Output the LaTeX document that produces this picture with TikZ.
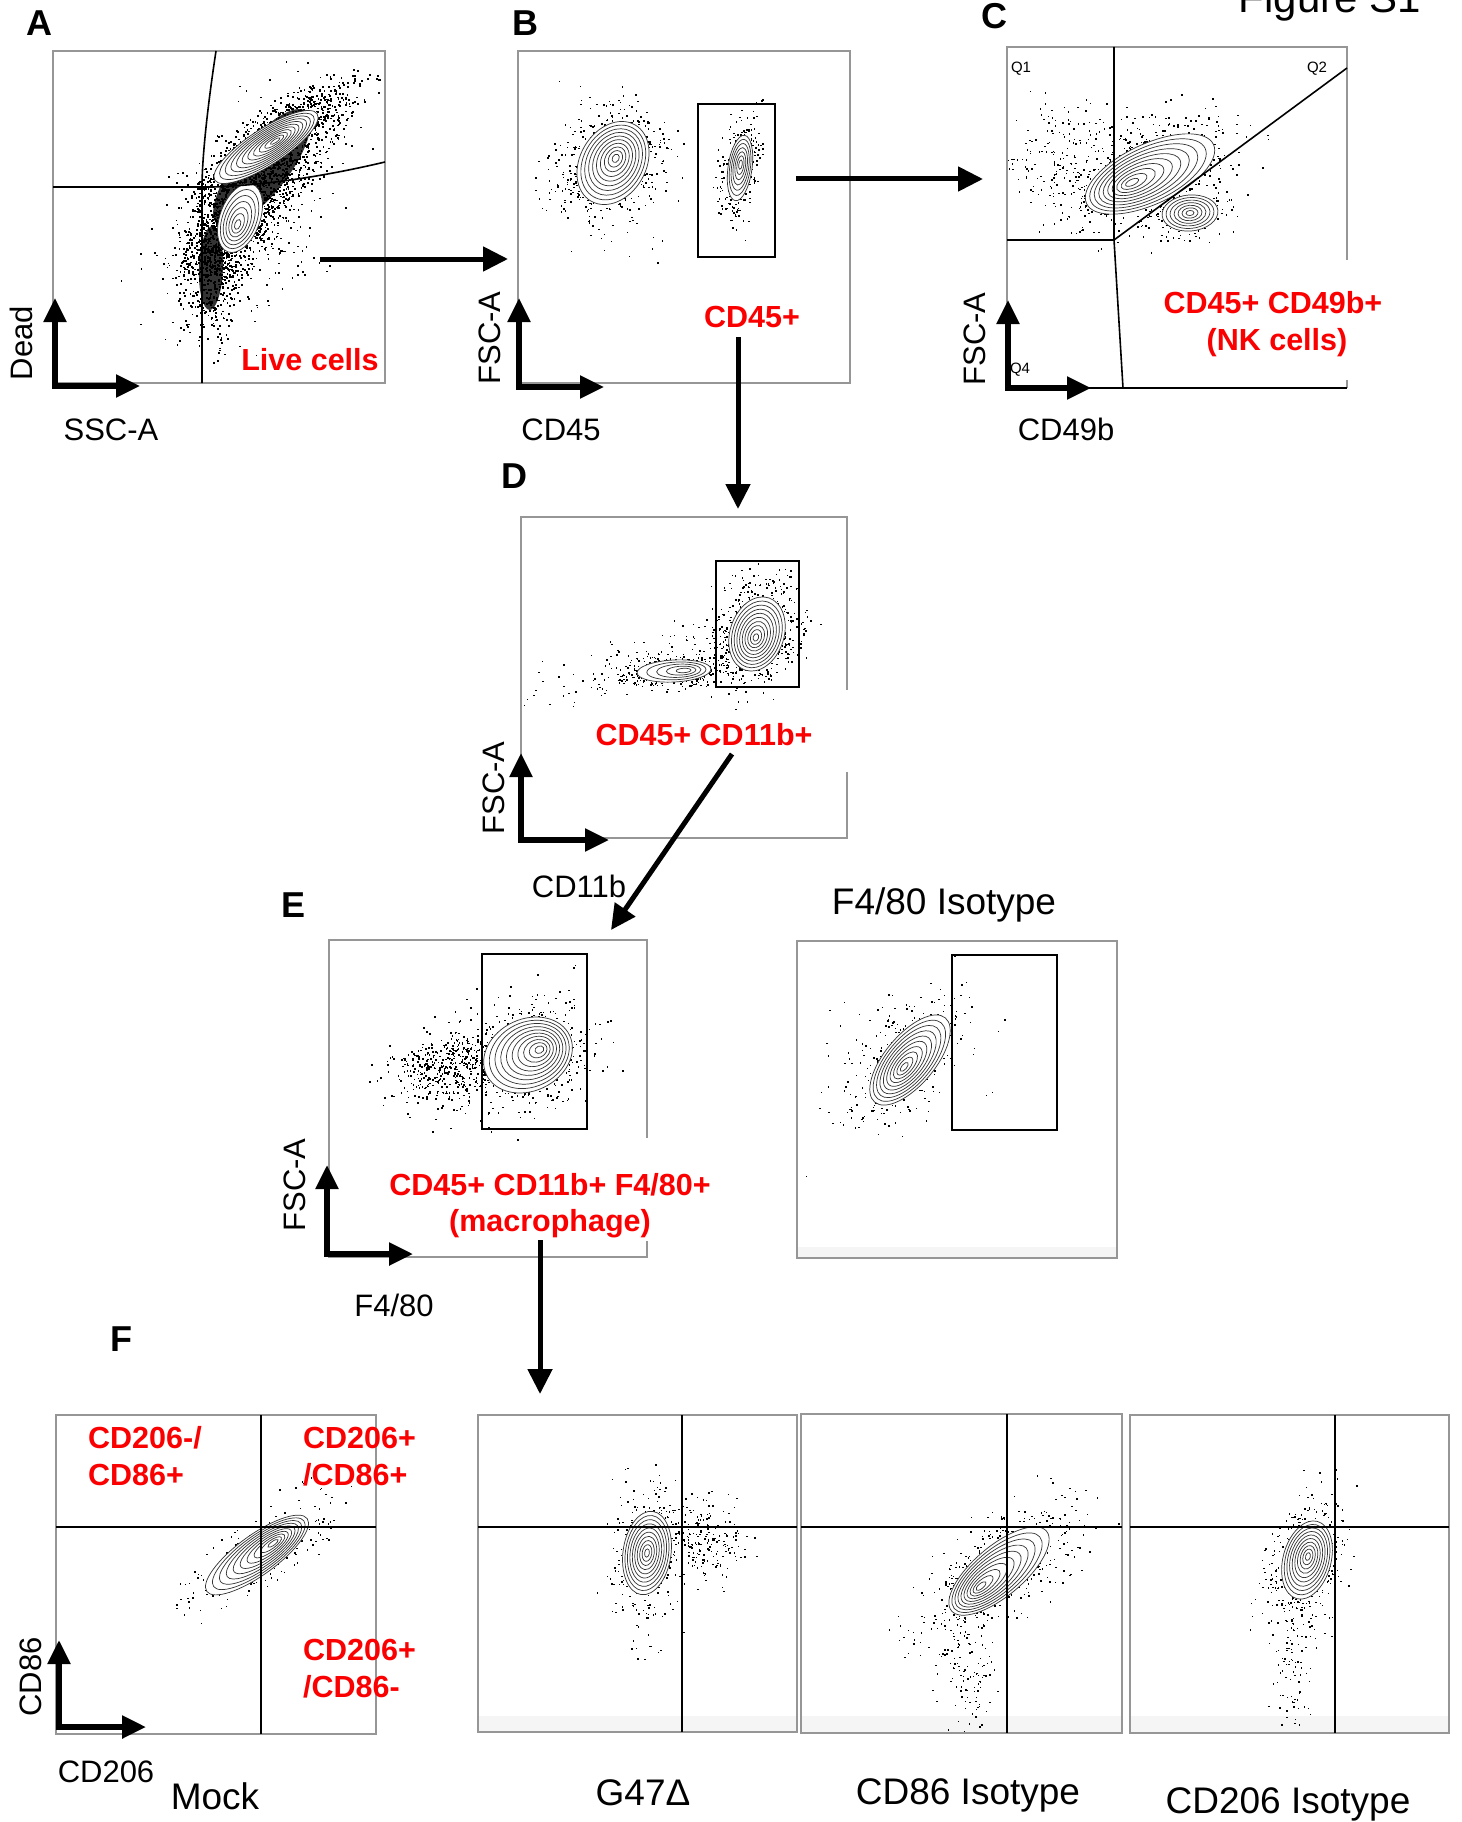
\documentclass[tikz,border=0pt]{standalone}
\usepackage{fontspec}
\setmainfont{Liberation Sans}
\usepackage{tikz}
\usetikzlibrary{positioning,arrows.meta}
\definecolor{popred}{RGB}{250,0,0}
\definecolor{boxgray}{RGB}{150,150,150}

% random cloud: cx cy sd-major sd-minor angle count dot
\newcommand\scat[7]{%
  \foreach \k in {1,...,#6}{%
    \pgfmathsetmacro\scu{(rand+rand+rand)*#3}%
    \pgfmathsetmacro\scv{(rand+rand+rand)*#4}%
    \pgfmathsetmacro\scx{#1+\scu*cos(#5)-\scv*sin(#5)}%
    \pgfmathsetmacro\scy{#2-\scu*sin(#5)-\scv*cos(#5)}%
    \fill (\scx,\scy) rectangle ++(#7,#7);
  }}
% nested contours: cx cy a b angle levels shift
\newcommand\ctr[7]{%
  \begin{scope}[rotate around={#5:(#1,#2)}]
    \draw[ctrline,fill=white] (#1,#2) ellipse [x radius=#3, y radius=#4];
    \foreach \j in {1,...,#6}{%
      \pgfmathsetmacro\cf{1-\j/(#6+1)}%
      \pgfmathsetmacro\cra{\cf*#3}%
      \pgfmathsetmacro\crb{\cf*#4}%
      \pgfmathsetmacro\ccx{#1+#7*(1-\cf)}%
      \draw[ctrline] (\ccx,#2) ellipse [x radius=\cra, y radius=\crb];
    }
  \end{scope}}

\begin{document}
\begin{tikzpicture}
  [x=1pt,y=-1pt,
   box/.style={draw=boxgray,line width=1.3pt},
   gate/.style={draw=black,line width=1.6pt},
   quad/.style={draw=black,line width=1.2pt},
   ctrline/.style={draw=black!80,line width=0.7pt},
   ax/.style={line width=5.5pt,line join=miter,{Triangle[width=22pt,length=24pt]}-{Triangle[width=22pt,length=24pt]}},
   flow/.style={line width=5pt,-{Triangle[width=24pt,length=25pt]}},
   lab/.style={font=\fontsize{31}{37}\selectfont,inner sep=0pt},
   pop/.style={font=\fontsize{30.5}{37}\selectfont\bfseries,text=popred,inner sep=0pt},
   panel/.style={font=\fontsize{36}{40}\selectfont\bfseries,inner sep=0pt},
   bigtxt/.style={font=\fontsize{37}{42}\selectfont,inner sep=0pt},
   qlab/.style={font=\fontsize{15}{18}\selectfont,inner sep=0pt}]
  \useasboundingbox (0,0) rectangle (1461,1822);
  \pgfmathsetseed{11}

  \node[bigtxt,font=\fontsize{42}{46}\selectfont,anchor=base] (title) at (1330,13) {Figure S1};

  % A
  \node[panel,anchor=base] (pA) at (39,36) {A};
  \begin{scope}
    \clip (53,51) rectangle (385,383);
    \fill[black!80,rotate around={52:(262,168)}] (262,168) ellipse [x radius=72, y radius=26];
    \fill[black!80,rotate around={88:(211,268)}] (211,268) ellipse [x radius=42, y radius=12];
    \scat{255}{190}{50}{20}{55}{1000}{1.8}
    \scat{212}{262}{38}{16}{88}{600}{1.8}
    \scat{295}{128}{48}{13}{38}{400}{1.8}
    \scat{250}{220}{65}{38}{55}{300}{1.6}
    \scat{266}{147}{42}{14}{33}{600}{1.8}
    \scat{240}{218}{26}{15}{70}{400}{1.8}
    \ctr{240}{218}{36}{20}{70}{6}{-8}
    \ctr{266}{147}{61}{18}{33}{10}{12}
  \end{scope}
  \draw[box] (53,51) rectangle (385,383);
  \draw[gate] (216,51) .. controls (207,110) and (202,160) .. (202,187) -- (202,383);
  \draw[gate] (53,187) -- (213,187) .. controls (270,185) and (330,175) .. (385,162);
  \node[pop,anchor=base] (live) at (310,370) {Live cells};
  \draw[ax] (55,298) -- (55,386) -- (140,386);
  \node[lab,rotate=90] (yA) at (21,343) {Dead};
  \node[lab,anchor=base] (xA) at (111,440) {SSC-A};

  % B
  \node[panel,anchor=base] (pB) at (525,36) {B};
  \begin{scope}
    \clip (518,51) rectangle (850,383);
    \scat{606}{166}{28}{20}{65}{220}{1.5}
    \scat{600}{170}{40}{38}{0}{90}{1.4}
    \scat{613}{163}{32}{25}{60}{300}{1.6}
    \scat{738}{172}{28}{9}{84}{130}{1.5}
    \scat{740}{168}{25}{9}{82}{200}{1.6}
    \ctr{613}{163}{44}{33}{60}{9}{6}
    \ctr{740}{168}{33}{12}{82}{6}{4}
  \end{scope}
  \draw[box] (518,51) rectangle (850,383);
  \draw[gate] (698,104) rectangle (775,257);
  \node[pop,anchor=base] (cd45) at (752,327) {CD45+};
  \draw[ax] (519,298) -- (519,387) -- (604,387);
  \node[lab,rotate=90] (yB) at (490,338) {FSC-A};
  \node[lab,anchor=base] (xB) at (561,440) {CD45};

  % C
  \node[panel,anchor=base] (pC) at (994,29) {C};
  \begin{scope}
    \clip (1007,47) rectangle (1347,388);
    \scat{1135}{172}{50}{24}{20}{330}{1.5}
    \scat{1060}{150}{35}{28}{10}{160}{1.4}
    \scat{1150}{174}{48}{22}{25}{280}{1.6}
    \scat{1190}{214}{20}{13}{5}{140}{1.5}
    \ctr{1150}{174}{70}{30}{25}{9}{-22}
    \ctr{1190}{213}{28}{18}{5}{6}{0}
  \end{scope}
  \draw[box] (1347,260) -- (1347,47) -- (1007,47) -- (1007,388);
  \draw[box] (1347,380) -- (1347,388);
  \draw[gate] (1007,388) -- (1347,388);
  \draw[gate] (1114,47) -- (1114,240) -- (1123,388);
  \draw[gate] (1007,240) -- (1114,240) -- (1347,68);
  \node[qlab] (q1) at (1021,69) {Q1};
  \node[qlab] (q2) at (1317,69) {Q2};
  \node[qlab] (q4) at (1020,370) {Q4};
  \node[pop,anchor=base] (nk1) at (1273,313) {CD45+ CD49b+};
  \node[pop,anchor=base] (nk2) at (1277,350) {(NK cells)};
  \draw[ax] (1008,300) -- (1008,388) -- (1091,388);
  \node[lab,rotate=90] (yC) at (975,339) {FSC-A};
  \node[lab,anchor=base] (xC) at (1066,440) {CD49b};

  % D
  \node[panel,anchor=base] (pD) at (514,488) {D};
  \begin{scope}
    \clip (521,517) rectangle (847,838);
    \scat{757}{630}{30}{22}{70}{260}{1.5}
    \scat{757}{634}{27}{20}{72}{330}{1.6}
    \scat{672}{670}{36}{9}{3}{180}{1.5}
    \scat{674}{671}{27}{8}{3}{200}{1.6}
    \scat{650}{664}{60}{14}{15}{120}{1.4}
    \ctr{674}{671}{37}{11}{3}{4}{12}
    \ctr{757}{634}{38}{27}{72}{9}{-4}
  \end{scope}
  \draw[box] (847,690) -- (847,517) -- (521,517) -- (521,838) -- (847,838) -- (847,772);
  \draw[gate] (716,561) rectangle (799,687);
  \node[pop,anchor=base] (cd11) at (704,745) {CD45+ CD11b+};
  \draw[ax] (521,753) -- (521,840) -- (609,840);
  \node[lab,rotate=90] (yD) at (494,788) {FSC-A};
  \node[lab,anchor=base] (xD) at (579,897) {CD11b};

  % E
  \node[panel,anchor=base] (pE) at (294,917) {E};
  \begin{scope}
    \clip (329,940) rectangle (647,1257);
    \scat{510}{1055}{42}{26}{25}{330}{1.5}
    \scat{528}{1055}{33}{26}{25}{330}{1.6}
    \scat{445}{1066}{28}{17}{20}{380}{1.6}
    \ctr{528}{1055}{46}{36}{25}{9}{14}
  \end{scope}
  \draw[box] (647,1138) -- (647,940) -- (329,940) -- (329,1257) -- (647,1257) -- (647,1241);
  \draw[gate] (482,954) rectangle (587,1129);
  \node[pop,anchor=base] (mac1) at (550,1195) {CD45+ CD11b+ F4/80+};
  \node[pop,anchor=base] (mac2) at (550,1231) {(macrophage)};
  \draw[ax] (327,1165) -- (327,1254) -- (413,1254);
  \node[lab,rotate=90] (yE) at (295,1185) {FSC-A};
  \node[lab,anchor=base] (xE) at (394,1316) {F4/80};

  % F4/80 isotype
  \node[bigtxt,anchor=base] (iso) at (944,914) {F4/80 Isotype};
  \begin{scope}
    \clip (797,941) rectangle (1117,1258);
    \fill[black!4] (797,1247) rectangle (1117,1258);
    \scat{898}{1062}{42}{20}{45}{160}{1.4}
    \scat{910}{1060}{38}{18}{50}{160}{1.5}
    \scat{880}{1060}{60}{35}{20}{60}{1.4}
    \ctr{910}{1060}{55}{25}{50}{9}{-10}
  \end{scope}
  \draw[box] (797,941) rectangle (1117,1258);
  \draw[gate] (952,955) rectangle (1057,1130);

  % F
  \node[panel,anchor=base] (pF) at (121,1351) {F};
  \begin{scope}
    \clip (56,1415) rectangle (376,1734);
    \scat{257}{1555}{48}{16}{36}{110}{1.4}
    \scat{257}{1555}{44}{14}{36}{110}{1.5}
    \ctr{257}{1555}{62}{20}{36}{9}{22}
  \end{scope}
  \draw[box] (56,1415) rectangle (376,1734);
  \draw[quad] (261,1415) -- (261,1734);
  \draw[gate] (56,1527) -- (376,1527);
  \node[pop,anchor=base west] (m1) at (88,1448) {CD206-/};
  \node[pop,anchor=base west] (m2) at (88,1485) {CD86+};
  \node[pop,anchor=base west] (m3) at (303,1448) {CD206+};
  \node[pop,anchor=base west] (m4) at (303,1485) {/CD86+};
  \node[pop,anchor=base west] (m5) at (303,1660) {CD206+};
  \node[pop,anchor=base west] (m6) at (303,1697) {/CD86-};
  \draw[ax] (59,1640) -- (59,1727) -- (146,1727);
  \node[lab,rotate=90] (yF) at (31,1677) {CD86};
  \node[lab,anchor=base] (xF) at (106,1782) {CD206};
  \node[bigtxt,anchor=base] (mock) at (215,1809) {Mock};

  \begin{scope}
    \clip (478,1415) rectangle (797,1732);
    \fill[black!4] (478,1716) rectangle (797,1732);
    \scat{648}{1556}{40}{17}{85}{140}{1.4}
    \scat{647}{1553}{31}{18}{82}{180}{1.5}
    \scat{706}{1540}{18}{20}{0}{200}{1.5}
    \ctr{647}{1553}{42}{24}{82}{9}{0}
  \end{scope}
  \draw[box] (478,1415) rectangle (797,1732);
  \draw[quad] (682,1415) -- (682,1732);
  \draw[gate] (478,1527) -- (797,1527);
  \node[bigtxt,anchor=base] (g47) at (643,1805) {G47Δ};

  \begin{scope}
    \clip (801,1414) rectangle (1122,1733);
    \fill[black!4] (801,1716) rectangle (1122,1733);
    \scat{995}{1568}{52}{22}{40}{250}{1.4}
    \scat{999}{1571}{46}{19}{40}{270}{1.5}
    \scat{968}{1672}{45}{14}{88}{140}{1.4}
    \ctr{999}{1571}{62}{25}{40}{9}{-26}
  \end{scope}
  \draw[box] (801,1414) rectangle (1122,1733);
  \draw[quad] (1007,1414) -- (1007,1733);
  \draw[gate] (801,1527) -- (1122,1527);
  \node[bigtxt,anchor=base] (i86) at (968,1804) {CD86 Isotype};

  \begin{scope}
    \clip (1130,1415) rectangle (1449,1733);
    \fill[black!4] (1130,1716) rectangle (1449,1733);
    \scat{1305}{1556}{40}{17}{78}{200}{1.4}
    \scat{1307}{1560}{30}{18}{75}{280}{1.5}
    \scat{1292}{1665}{40}{10}{88}{90}{1.4}
    \ctr{1307}{1560}{40}{24}{75}{9}{4}
  \end{scope}
  \draw[box] (1130,1415) rectangle (1449,1733);
  \draw[quad] (1335,1415) -- (1335,1733);
  \draw[gate] (1130,1527) -- (1449,1527);
  \node[bigtxt,anchor=base] (i206) at (1288,1813) {CD206 Isotype};

  % flow arrows
  \coordinate (ab1) at (320,259);
  \coordinate (ab2) at (508,259);
  \coordinate (bc1) at (796,179);
  \coordinate (bc2) at (983,179);
  \coordinate (bd1) at (738,337);
  \coordinate (bd2) at (738,509);
  \coordinate (de1) at (732,754);
  \coordinate (de2) at (611,930);
  \coordinate (ef1) at (540,1240);
  \coordinate (ef2) at (540,1394);
  \draw[flow] (ab1) -- (ab2);
  \draw[flow] (bc1) -- (bc2);
  \draw[flow] (bd1) -- (bd2);
  \draw[flow] (de1) -- (de2);
  \draw[flow] (ef1) -- (ef2);
\end{tikzpicture}
\end{document}
